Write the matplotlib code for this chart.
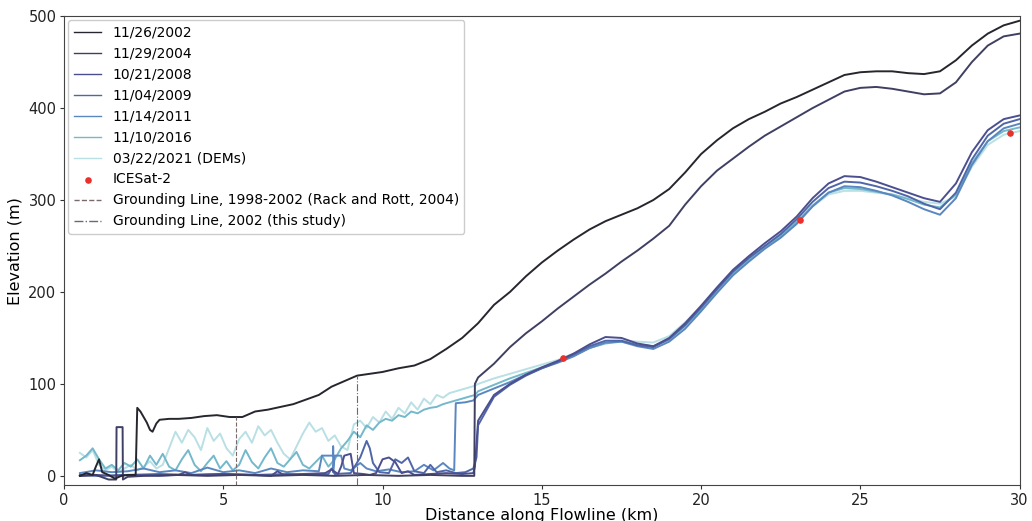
import numpy as np
import matplotlib
matplotlib.use("Agg")
import matplotlib.pyplot as plt

# ---- data ----
labels = ["11/26/2002", "11/29/2004", "10/21/2008", "11/04/2009",
          "11/14/2011", "11/10/2016", "03/22/2021 (DEMs)"]
colors = ["#26262f", "#3f3f63", "#4c4f8f", "#4f66a8",
          "#5a87c0", "#74b8cb", "#b9e0e4"]

# sample positions used by the smooth upper part of the DEM profiles (km)
x_high = [13.0, 13.5, 14.0, 14.5, 15.0, 15.5, 16.0, 16.5, 17.0, 17.5, 18.0, 18.5,
          19.0, 19.5, 20.0, 20.5, 21.0, 21.5, 22.0, 22.5, 23.0, 23.5, 24.0, 24.5,
          25.0, 25.5, 26.0, 26.5, 27.0, 27.5, 28.0, 28.5, 29.0, 29.5, 30.0]
# sample positions used by the noisy lower part of the light profiles (km)
x_noise = [0.5, 0.7, 0.9, 1.1, 1.3, 1.5, 1.7, 1.9, 2.1, 2.3, 2.5, 2.7, 2.9, 3.1,
           3.3, 3.5, 3.7, 3.9, 4.1, 4.3, 4.5, 4.7, 4.9, 5.1, 5.3, 5.5, 5.7, 5.9,
           6.1, 6.3, 6.5, 6.7, 6.9, 7.1, 7.3, 7.5, 7.7, 7.9, 8.1, 8.3, 8.5, 8.7,
           8.9, 9.1, 9.3, 9.5, 9.7, 9.9, 10.1, 10.3, 10.5, 10.7, 10.9, 11.1, 11.3,
           11.5, 11.7, 11.9, 12.1, 12.3, 12.5, 12.7, 12.9]

# 11/26/2002
x_2002 = [0.5, 0.7, 0.9, 1.0, 1.1, 1.2, 1.4, 1.6, 1.8, 2.0, 2.25, 2.3, 2.4, 2.5,
          2.6, 2.7, 2.78, 2.9, 3.0, 3.3, 3.6, 4.0, 4.4, 4.8, 5.2, 5.6, 6.0, 6.4,
          6.8, 7.2, 7.6, 8.0, 8.4, 8.8, 9.2, 9.6, 10.0, 10.5, 11.0, 11.5, 12.0,
          12.5] + x_high
y_2002 = [0, 3, 1, 10, 18, 4, 1, -3, 0, 1, 1, 74, 70, 64, 58, 50, 48, 57, 61, 62,
          62, 63, 65, 66, 64, 64, 70, 72, 75, 78, 83, 88, 97, 103, 109, 111, 113,
          117, 120, 127, 138, 150,
          166, 186, 200, 217, 232, 245, 257, 268, 277, 284, 291, 300, 312, 330,
          350, 365, 378, 388, 396, 405, 412, 420, 428, 436, 439, 440, 440, 438,
          437, 440, 452, 468, 481, 490, 495]

# 11/29/2004
x_2004 = [0.5, 1.0, 1.4, 1.64, 1.65, 1.84, 1.85, 2.0, 2.5, 3.5, 4.5, 5.5, 6.5,
          7.5, 8.5, 9.5, 10.5, 11.5, 12.5, 12.88, 12.9] + x_high
y_2004 = [0, 1, -4, -4, 53, 53, -4, -1, 0, 1, 0, 1, 0, 1, 0, 1, 0, 1, 0, 0, 100,
          107, 122, 140, 155, 168, 182, 195, 208, 220, 233, 245, 258, 272, 295,
          315, 332, 345, 358, 370, 380, 390, 400, 409, 418, 422, 423, 421, 418,
          415, 416, 428, 450, 468, 478, 481]

# 10/21/2008
x_2008 = [0.5, 1.0, 1.5, 2.0, 3.0, 3.6, 3.8, 4.0, 5.0, 6.0, 6.5, 6.7, 6.9, 7.5,
          8.2, 8.4, 8.6, 8.7, 8.8, 9.0, 9.1, 9.4, 9.6, 9.8, 10.0, 10.2, 10.4,
          10.6, 10.8, 11.0, 11.5, 12.0, 12.5, 12.85, 12.9] + x_high
y_2008 = [0, 1, 0, 1, 0, 1, 4, 1, 2, 1, 0, 5, 1, 2, 3, 7, 2, 10, 22, 24, 3, 2, 1,
          3, 18, 20, 15, 3, 5, 1, 2, 3, 2, 3, 10,
          60, 88, 100, 110, 118, 125, 133, 143, 151, 150, 144, 141, 150, 166,
          185, 205, 224, 239, 253, 266, 282, 302, 318, 326, 325, 320, 314, 308,
          302, 298, 318, 352, 376, 388, 392]

# 11/04/2009
x_2009 = [0.5, 1.0, 2.0, 3.0, 4.0, 5.0, 6.0, 7.0, 8.0, 8.3, 8.4, 8.5, 9.0, 9.3,
          9.5, 9.6, 9.7, 9.9, 10.2, 10.4, 10.6, 10.8, 11.0, 11.3, 11.5, 11.7,
          12.0, 12.3, 12.6, 12.85, 12.95] + x_high
y_2009 = [1, 0, 1, 2, 1, 2, 1, 2, 1, 2, 8, 2, 3, 20, 38, 30, 14, 4, 3, 18, 14, 20,
          5, 3, 12, 4, 6, 3, 4, 8, 20,
          55, 86, 99, 109, 117, 124, 132, 141, 147, 147, 142, 140, 149, 164,
          183, 203, 222, 237, 250, 263, 279, 298, 313, 320, 319, 315, 310, 304,
          296, 290, 308, 344, 370, 383, 388]

# 11/14/2011
x_2011 = [0.5, 1.0, 1.5, 2.0, 2.5, 3.0, 3.5, 4.0, 4.5, 5.0, 5.5, 6.0, 6.5, 7.0,
          7.5, 8.0, 8.1, 8.45, 8.45, 8.45, 8.5, 8.7, 8.8, 9.0, 9.3, 9.5, 9.8,
          10.2, 10.6, 11.0, 11.3, 11.6, 11.9, 12.1, 12.25, 12.3, 12.6,
          12.85] + x_high
y_2011 = [3, 6, 4, 5, 8, 4, 6, 3, 9, 4, 6, 3, 8, 4, 6, 5, 22, 22, 32, 4, 22, 22,
          8, 6, 14, 8, 5, 7, 4, 5, 12, 6, 14, 8, 6, 79, 80, 82,
          88, 95, 102, 110, 117, 123, 130, 139, 145, 146, 141, 138, 146, 160,
          179, 199, 218, 233, 247, 259, 274, 293, 308, 315, 314, 310, 305, 298,
          290, 284, 302, 338, 364, 378, 383]

# 11/10/2016
x_2016 = x_noise + x_high
y_2016 = [17, 22, 30, 18, 8, 12, 6, 14, 10, 18, 8, 22, 12, 24, 10, 6, 18, 28, 12,
          5, 14, 22, 8, 16, 6, 12, 28, 15, 8, 20, 30, 14, 10, 18, 26, 12, 8, 15,
          22, 10, 18, 30, 38, 48, 42, 55, 50, 58, 62, 60, 66, 64, 70, 68, 72, 74,
          75, 78, 80, 82, 84, 86, 88,
          92, 99, 106, 112, 118, 124, 131, 139, 144, 146, 143, 141, 148, 163,
          181, 201, 220, 235, 249, 261, 276, 294, 308, 313, 312, 309, 306, 301,
          295, 292, 306, 340, 364, 375, 379]

# 03/22/2021
x_2021 = x_noise + x_high
y_2021 = [25, 20, 28, 12, 6, 10, 4, 8, 12, 6, 10, 16, 8, 12, 30, 48, 36, 50, 42,
          28, 52, 38, 46, 30, 22, 40, 48, 36, 54, 44, 50, 36, 24, 18, 32, 46, 58,
          48, 52, 38, 44, 32, 28, 56, 60, 52, 64, 58, 70, 62, 74, 68, 80, 72, 84,
          78, 88, 85, 90, 92, 94, 96, 98,
          100, 106, 111, 116, 121, 126, 133, 140, 145, 147, 146, 145, 152, 167,
          184, 203, 221, 236, 250, 262, 276, 293, 306, 310, 310, 308, 306, 302,
          298, 296, 304, 336, 360, 371, 375]

# ICESat-2 points
ice_x = [15.65, 23.1, 29.7]
ice_y = [128, 278, 373]

# grounding lines: position (km) and top of the drawn segment (m)
gl_rack_x, gl_rack_top = 5.4, 64
gl_this_x, gl_this_top = 9.2, 109

series = [(x_2002, y_2002), (x_2004, y_2004), (x_2008, y_2008),
          (x_2009, y_2009), (x_2011, y_2011), (x_2016, y_2016),
          (x_2021, y_2021)]

# ---- plot ----
fig = plt.figure(figsize=(10.32, 5.21), dpi=100)
ax = fig.add_axes([0.062, 0.069, 0.926, 0.900])

# draw light lines first so the darker ones sit on top of the noise
order = [6, 5, 4, 3, 2, 1, 0]
handles = {}
for i in order:
    xs, ys = series[i]
    h, = ax.plot(xs, ys, color=colors[i], lw=1.4, label=labels[i])
    handles[i] = h

pts = ax.scatter(ice_x, ice_y, s=14, color="#e8312a", zorder=5, label="ICESat-2")

ymin = -10
gl1 = ax.vlines(gl_rack_x, ymin, gl_rack_top, colors="#7a6a6a", linestyles="--",
                lw=0.8, label="Grounding Line, 1998-2002 (Rack and Rott, 2004)")
gl2 = ax.vlines(gl_this_x, ymin, gl_this_top, colors="#6a6a72", linestyles="-.",
                lw=0.8, label="Grounding Line, 2002 (this study)")

ax.set_xlim(0, 30)
ax.set_ylim(ymin, 500)
ax.set_xticks([0, 5, 10, 15, 20, 25, 30])
ax.set_yticks([0, 100, 200, 300, 400, 500])
ax.tick_params(labelsize=10.5, colors="#333333", labelcolor="#222222",
               length=3, pad=2.5)
for s in ax.spines.values():
    s.set_color("#444444")

ax.set_xlabel("Distance along Flowline (km)", fontsize=11.5, labelpad=0)
ax.set_ylabel("Elevation (m)", fontsize=11.5, labelpad=4)

leg_handles = [handles[i] for i in range(7)] + [pts, gl1, gl2]
leg = ax.legend(handles=leg_handles, loc="upper left", fontsize=10,
                borderaxespad=0.3, labelspacing=0.5, framealpha=1)
for line in leg.get_lines():
    line.set_linewidth(1.0)

fig.savefig("out.png", dpi=100)
